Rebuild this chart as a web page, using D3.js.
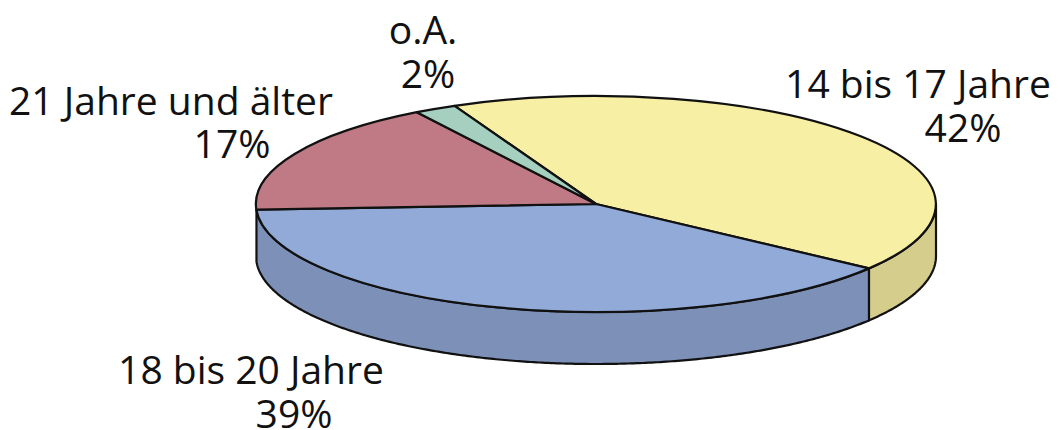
<!DOCTYPE html>
<html><head><meta charset="utf-8">
<script src="https://cdn.jsdelivr.net/npm/d3@7/dist/d3.min.js"></script>
<style>html,body{margin:0;background:#fff}svg{display:block}text{font-family:"Open Sans","Noto Sans",sans-serif;font-size:39px;fill:#111}</style>
</head><body><svg id="c" width="1060" height="430"></svg>
<script>
const categories=["14 bis 17 Jahre","18 bis 20 Jahre","21 Jahre und älter","o.A."];
const values=[42,39,17,2];
const topColors=["#f7efa3","#92aad7","#c07a85","#a5d0c0"];
const sideColors=["#d5cd8c","#7c90b8","#a5676f","#8db3a5"];
const namePos=[[918,98],[251,384],[171,115],[423,44]];
const pctPos=[[963,142],[294,428],[232,158],[428,88]];
const cx=596,cy=204,rx=340,ry=108,depth=52;
const deg=Math.PI/180;
const svg=d3.select("#c");
const pie=d3.pie().sort(null).value(d=>d).startAngle(-24.6*deg).endAngle(335.4*deg);
const arcs=pie(values);
const unit=d3.scaleLinear().domain([-1,1]);
const sx=unit.copy().range([cx-rx,cx+rx]), sy=unit.copy().range([cy-ry,cy+ry]);
function wall(a0,a1){
  const lo=Math.max(a0,90*deg),hi=Math.min(a1,267*deg);
  if(hi<=lo)return null;
  const ang=d3.range(lo,hi,0.5*deg).concat([hi]);
  const area=d3.area().x(a=>sx(Math.sin(a))).y0(a=>sy(-Math.cos(a))).y1(a=>sy(-Math.cos(a))+depth);
  return area(ang);
}
const g=svg.append("g").attr("stroke","#111").attr("stroke-width",2.2).attr("stroke-linejoin","round");
arcs.forEach((d,i)=>{
  const p=wall(d.startAngle,d.endAngle);
  if(p)g.append("path").attr("d",p).attr("fill",sideColors[i]);
});
const arc=d3.arc().innerRadius(0).outerRadius(1);
const disc=g.append("g").attr("transform",`translate(${cx},${cy}) scale(${rx},${ry})`);
disc.selectAll("path").data(arcs).join("path").attr("d",arc)
  .attr("fill",(d,i)=>topColors[i]).attr("vector-effect","non-scaling-stroke");
const t=svg.append("g").attr("text-anchor","middle");
categories.forEach((c,i)=>{
  t.append("text").attr("x",namePos[i][0]).attr("y",namePos[i][1]).text(c);
  t.append("text").attr("x",pctPos[i][0]).attr("y",pctPos[i][1]).text(values[i]+"%");
});
</script></body></html>
